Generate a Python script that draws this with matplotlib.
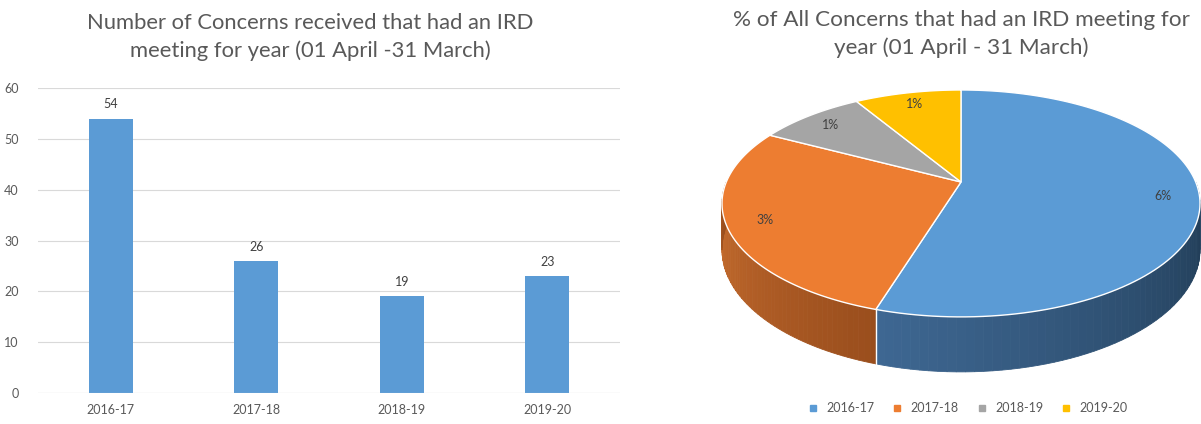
import numpy as np
import matplotlib
matplotlib.use("Agg")
import matplotlib.pyplot as plt
from matplotlib.lines import Line2D
from matplotlib.colors import to_rgb

plt.rcParams['font.family'] = ['Lato', 'DejaVu Sans']

years = ['2016-17', '2017-18', '2018-19', '2019-20']
concerns = [54, 26, 19, 23]
pct = [5.7, 2.9, 0.9, 0.9]          # % of all concerns, shown rounded
pct_labels = ['6%', '3%', '1%', '1%']
colors = ['#5b9bd5', '#ed7d31', '#a5a5a5', '#ffc000']
side_colors = {0: ('#3e6792', '#1e3850'), 1: ('#cb7030', '#9a4e1d')}

txt = '#595959'

fig = plt.figure(figsize=(12.01, 4.24), dpi=100)

# ---- bar chart ----
ax = fig.add_axes([38 / 1201, 1 - 393 / 424, 582 / 1201, 305 / 424])
x = np.arange(len(years))
ax.bar(x, concerns, width=0.3, color='#5b9bd5', zorder=3)
for xi, v in zip(x, concerns):
    ax.annotate(str(v), (xi, v), xytext=(0, 6), textcoords='offset points',
                ha='center', va='bottom', fontsize=9, color='#404040')
ax.set_xlim(-0.5, 3.5)
ax.set_ylim(0, 60)
ax.set_yticks(range(0, 61, 10))
ax.set_xticks(x)
ax.set_xticklabels(years)
ax.grid(axis='y', color='#d9d9d9', linewidth=0.8, zorder=0)
for s in ax.spines.values():
    s.set_visible(False)
ax.tick_params(length=0, labelsize=9, colors=txt, pad=8)
ax.tick_params(axis='y', pad=14)
ax.axhline(0, color='#d9d9d9', linewidth=0.8, zorder=4)

fig.text(310 / 1201, 1 - 37 / 424,
         'Number of Concerns received that had an IRD\nmeeting for year (01 April -31 March)',
         ha='center', va='center', fontsize=15.8, color=txt, linespacing=1.45)

# ---- 3D-looking pie, drawn in pixel coordinates ----
pax = fig.add_axes([0, 0, 1, 1])
pax.set_xlim(0, 1201)
pax.set_ylim(424, 0)
pax.axis('off')

cx, cy, a, b, k, H = 961, 182, 234.7, 109.4, 0.189, 44.6


def proj(theta, r=1.0):
    u = r * np.cos(np.radians(theta))
    v = r * np.sin(np.radians(theta))
    w = 1 + k * v
    return cx + a * u / w, cy - b * v / w, w


fracs = np.array(pct) / sum(pct)
bounds = 90 - 360 * np.concatenate([[0], np.cumsum(fracs)])

# side walls (near half: theta in [-180, 0])
for i in range(len(pct)):
    hi, lo = bounds[i], bounds[i + 1]
    s_lo, s_hi = max(lo, -180), min(hi, 0)
    if s_lo >= s_hi or i not in side_colors:
        continue
    c0, c1 = np.array(to_rgb(side_colors[i][0])), np.array(to_rgb(side_colors[i][1]))
    edges = np.linspace(s_hi, s_lo, 60)
    for j in range(len(edges) - 1):
        th = np.linspace(edges[j], edges[j + 1], 4)
        px, py, w = proj(th)
        xs = np.concatenate([px, px[::-1]])
        ys = np.concatenate([py, (py + H / w)[::-1]])
        t = j / (len(edges) - 2)
        col = c0 * (1 - t) + c1 * t
        # colour runs left -> right across the screen
        if px[0] > px[-1]:
            col = c0 * t + c1 * (1 - t)
        pax.fill(xs, ys, color=col, linewidth=0.6, edgecolor=col, zorder=2)

# white seam on the side at the blue/orange boundary
sx, sy, sw = proj(bounds[1])
pax.plot([sx, sx], [sy, sy + H / sw], color='white', linewidth=1, zorder=3)

# top faces
for i in range(len(pct)):
    th = np.linspace(bounds[i], bounds[i + 1], 120)
    px, py, _ = proj(th)
    pax.fill(np.concatenate([[cx], px]), np.concatenate([[cy], py]),
             facecolor=colors[i], edgecolor='white', linewidth=1, zorder=4)
    mx, my, _ = proj((bounds[i] + bounds[i + 1]) / 2, 0.85)
    pax.text(mx, my, pct_labels[i], ha='center', va='center', fontsize=9,
             color='#404040', zorder=5)

fig.text(961 / 1201, 1 - 34 / 424,
         '% of All Concerns that had an IRD meeting for\nyear (01 April - 31 March)',
         ha='center', va='center', fontsize=16.2, color=txt, linespacing=1.45)

handles = [Line2D([], [], marker='s', linestyle='none', markersize=4,
                  markerfacecolor=c, markeredgecolor=c) for c in colors]
fig.legend(handles, years, loc='center', bbox_to_anchor=(964 / 1201, 1 - 408 / 424),
           ncol=4, frameon=False, fontsize=9, labelcolor=txt, handletextpad=0.1,
           columnspacing=0.8)

fig.savefig('out.png', dpi=100)
